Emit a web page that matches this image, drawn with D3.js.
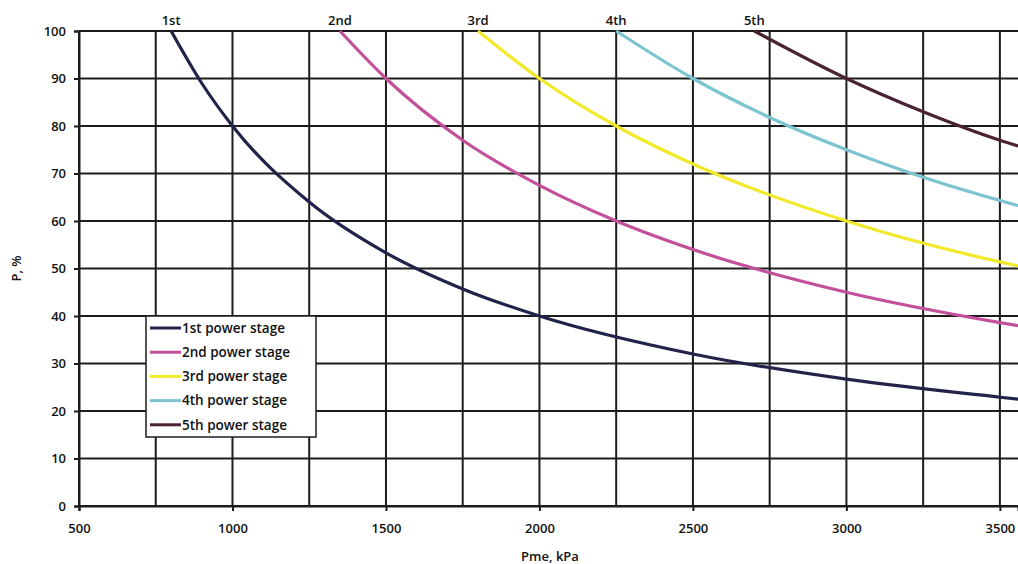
<!DOCTYPE html>
<html>
<head>
<meta charset="utf-8">
<script src="https://cdn.jsdelivr.net/npm/d3@7"></script>
<style>
  html, body { margin: 0; padding: 0; background: #fff; }
  svg { display: block; font-family: "Open Sans", "DejaVu Sans", sans-serif; font-weight: 600; }
  .tick text { font-size: 13px; fill: #111; }
  .grid line { stroke: #1c1c1c; stroke-width: 2; }
  .curve { fill: none; stroke-width: 3.2; }
</style>
</head>
<body>
<svg id="chart" width="1018" height="564"></svg>
<script>
// values (Pme in kPa, P in %)
const xTicks = [500, 1000, 1500, 2000, 2500, 3000, 3500];
const xGrid = [500, 750, 1000, 1250, 1500, 1750, 2000, 2250, 2500, 2750, 3000, 3250, 3500];
const yTicks = [0, 10, 20, 30, 40, 50, 60, 70, 80, 90, 100];

const stageNames = ['1st', '2nd', '3rd', '4th', '5th'];
const stageColors = ['#22234a', '#c2509a', '#f1e92a', '#7cc4d0', '#4a2236'];

const stage1 = [[800, 100], [900, 89], [1000, 80], [1250, 64], [1500, 53.3], [1750, 45.7], [2000, 40], [2500, 32], [3000, 26.7], [3500, 22.9], [3600, 22.2]];
const stage2 = [[1350, 100], [1500, 90], [1750, 77], [2000, 67.5], [2250, 60], [2500, 54], [3000, 45], [3500, 38.6], [3600, 37.5]];
const stage3 = [[1800, 100], [2000, 90], [2250, 80], [2500, 72], [3000, 60], [3500, 51.4], [3600, 50]];
const stage4 = [[2250, 100], [2500, 90], [2750, 81.8], [3000, 75], [3250, 69.2], [3500, 64.3], [3600, 62.5]];
const stage5 = [[2700, 100], [3000, 90], [3250, 83], [3500, 77], [3600, 75]];
const stages = [stage1, stage2, stage3, stage4, stage5];

const svg = d3.select('#chart');
const m = { left: 79, right: 1018, top: 31, bottom: 506 };

const x = d3.scaleLinear().domain([500, 3559]).range([m.left, m.right]);
const y = d3.scaleLinear().domain([0, 100]).range([m.bottom, m.top]);

// grid
const grid = svg.append('g').attr('class', 'grid');
grid.selectAll('.v').data(xGrid).join('line').attr('class', 'v')
  .attr('x1', d => x(d)).attr('x2', d => x(d)).attr('y1', m.top).attr('y2', m.bottom);
grid.selectAll('.h').data(yTicks).join('line').attr('class', 'h')
  .attr('x1', m.left).attr('x2', m.right).attr('y1', d => y(d)).attr('y2', d => y(d));

// axes
const yAxis = svg.append('g').attr('transform', `translate(${m.left},0)`)
  .call(d3.axisLeft(y).tickValues(yTicks).tickSize(5).tickPadding(8));
const xAxis = svg.append('g').attr('transform', `translate(0,${m.bottom})`)
  .call(d3.axisBottom(x).tickValues(xTicks).tickFormat(d3.format('d')).tickSize(5).tickPadding(13));
[yAxis, xAxis].forEach(a => {
  a.attr('font-family', null);
  a.select('.domain').attr('stroke', '#1c1c1c').attr('stroke-width', 2);
  a.selectAll('.tick line').attr('stroke', '#1c1c1c').attr('stroke-width', 2);
});

// curves
svg.append('clipPath').attr('id', 'plot-clip').append('rect')
  .attr('x', m.left).attr('y', m.top - 2).attr('width', m.right - m.left).attr('height', m.bottom - m.top + 2);
const line = d3.line().x(d => x(d[0])).y(d => y(d[1])).curve(d3.curveMonotoneX);
svg.append('g').attr('clip-path', 'url(#plot-clip)')
  .selectAll('path').data(stages).join('path')
  .attr('class', 'curve')
  .attr('stroke', (d, i) => stageColors[i])
  .attr('d', line);

// labels at top of each curve
svg.append('g').selectAll('text').data(stages).join('text')
  .attr('x', d => x(d[0][0]))
  .attr('y', m.top - 6)
  .attr('text-anchor', 'middle')
  .attr('font-size', 13)
  .attr('fill', '#111')
  .text((d, i) => stageNames[i]);

// axis titles
svg.append('text').attr('transform', `translate(21,${(m.top + m.bottom) / 2}) rotate(-90)`)
  .attr('text-anchor', 'middle').attr('font-size', 13).attr('fill', '#111').text('P, %');
svg.append('text').attr('x', 550).attr('y', 561)
  .attr('text-anchor', 'middle').attr('font-size', 13).attr('fill', '#111').text('Pme, kPa');

// legend
const lg = svg.append('g').attr('transform', 'translate(146,316)');
lg.append('rect').attr('width', 170).attr('height', 121)
  .attr('fill', '#fff').attr('stroke', '#1c1c1c').attr('stroke-width', 1.5);
const rows = lg.selectAll('g').data(stageNames).join('g')
  .attr('transform', (d, i) => `translate(0,${12 + i * 24.2})`);
rows.append('line').attr('x1', 4).attr('x2', 35).attr('stroke-width', 3)
  .attr('stroke', (d, i) => stageColors[i]);
rows.append('text').attr('x', 36).attr('dy', '0.35em').attr('font-size', 13.5).attr('fill', '#111')
  .text(d => d + ' power stage');
</script>
</body>
</html>
